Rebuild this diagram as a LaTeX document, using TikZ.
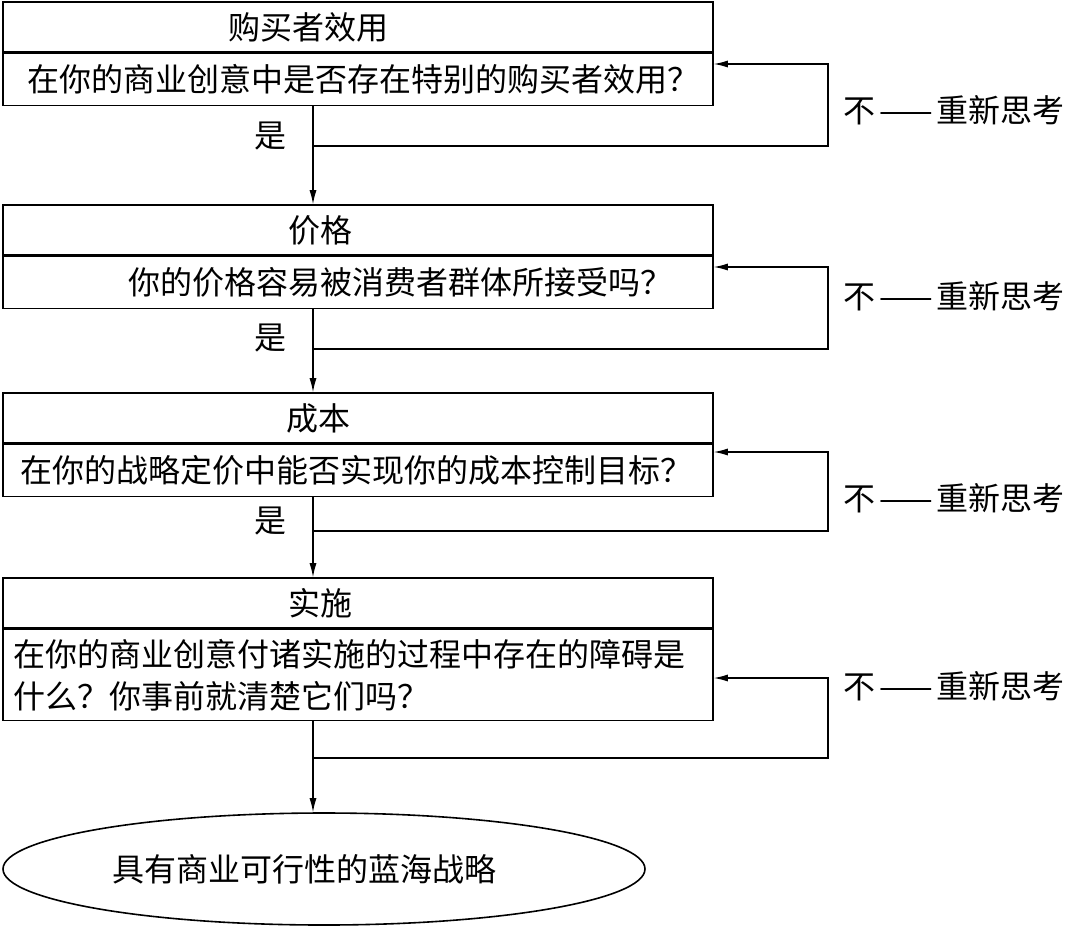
\documentclass[tikz,border=0pt]{standalone}
\usepackage{fontspec}
\setmainfont{Noto Sans CJK SC}
\usetikzlibrary{arrows.meta,shapes.geometric}

\begin{document}
\begin{tikzpicture}[x=1pt,y=-1pt,
    every node/.style={font=\fontsize{32}{42}\selectfont},
    box/.style={draw,line width=1.6pt,minimum width=710pt,inner sep=0pt,
                text width=690pt,align=left},
    titlebox/.style={box,minimum height=50pt},
    qbox/.style={box,minimum height=52pt},
    arr/.style={line width=1.2pt,-{Latex[length=14pt,width=7pt]}},
    yes/.style={left=26pt,inner sep=0pt},
    back/.style={anchor=west,inner sep=0pt}]
    \useasboundingbox (0,0) rectangle (1070,930);

    % the four checks
    \node[titlebox] (t1) at (358,27) {\hspace*{215pt}购买者效用};
    \node[qbox,anchor=north] (q1) at (t1.south) {\hspace*{14pt}在你的商业创意中是否存在特别的购买者效用？};
    \node[titlebox] (t2) at (358,230) {\hspace*{275pt}价格};
    \node[qbox,anchor=north] (q2) at (t2.south) {\hspace*{115pt}你的价格容易被消费者群体所接受吗？};
    \node[titlebox] (t3) at (358,418) {\hspace*{273pt}成本};
    \node[qbox,anchor=north] (q3) at (t3.south) {\hspace*{7pt}在你的战略定价中能否实现你的成本控制目标？};
    \node[titlebox] (t4) at (358,603) {\hspace*{275pt}实施};
    \node[qbox,anchor=north,minimum height=91pt] (q4) at (t4.south)
        {在你的商业创意付诸实施的过程中存在的障碍是\\什么？你事前就清楚它们吗？};

    % result
    \node[draw,ellipse,line width=1.6pt,minimum width=642pt,minimum height=112pt,
          inner sep=0pt] (goal) at (324,869) {\hspace*{-40pt}具有商业可行性的蓝海战略};

    % main flow
    \coordinate (spine) at (313,0);
    \draw[arr] (q1.south -| spine) -- node[yes,pos=0.3] {是} (t2.north -| spine);
    \draw[arr] (q2.south -| spine) -- node[yes,pos=0.35] {是} (t3.north -| spine);
    \draw[arr] (q3.south -| spine) -- node[yes,pos=0.3] {是} (t4.north -| spine);
    \draw[arr] (q4.south -| spine) -- (goal.north -| spine);

    % rethink loops
    \coordinate (b1) at (313,146); \coordinate (r1) at (828,146); \coordinate (e1) at (0,64);
    \coordinate (b2) at (313,349); \coordinate (r2) at (828,349); \coordinate (e2) at (0,267);
    \coordinate (b3) at (313,531); \coordinate (r3) at (828,531); \coordinate (e3) at (0,452);
    \coordinate (b4) at (313,758); \coordinate (r4) at (828,758); \coordinate (e4) at (0,678);
    \draw[arr] (b1) -- (r1) |- (q1.east |- e1);
    \draw[arr] (b2) -- (r2) |- (q2.east |- e2);
    \draw[arr] (b3) -- (r3) |- (q3.east |- e3);
    \draw[arr] (b4) -- (r4) |- (q4.east |- e4);

    \node[back] (no1) at (843,110) {不\kern4pt——\kern4pt重新思考};
    \node[back] (no2) at (843,296) {不\kern4pt——\kern4pt重新思考};
    \node[back] (no3) at (843,498) {不\kern4pt——\kern4pt重新思考};
    \node[back] (no4) at (843,686) {不\kern4pt——\kern4pt重新思考};
\end{tikzpicture}
\end{document}
